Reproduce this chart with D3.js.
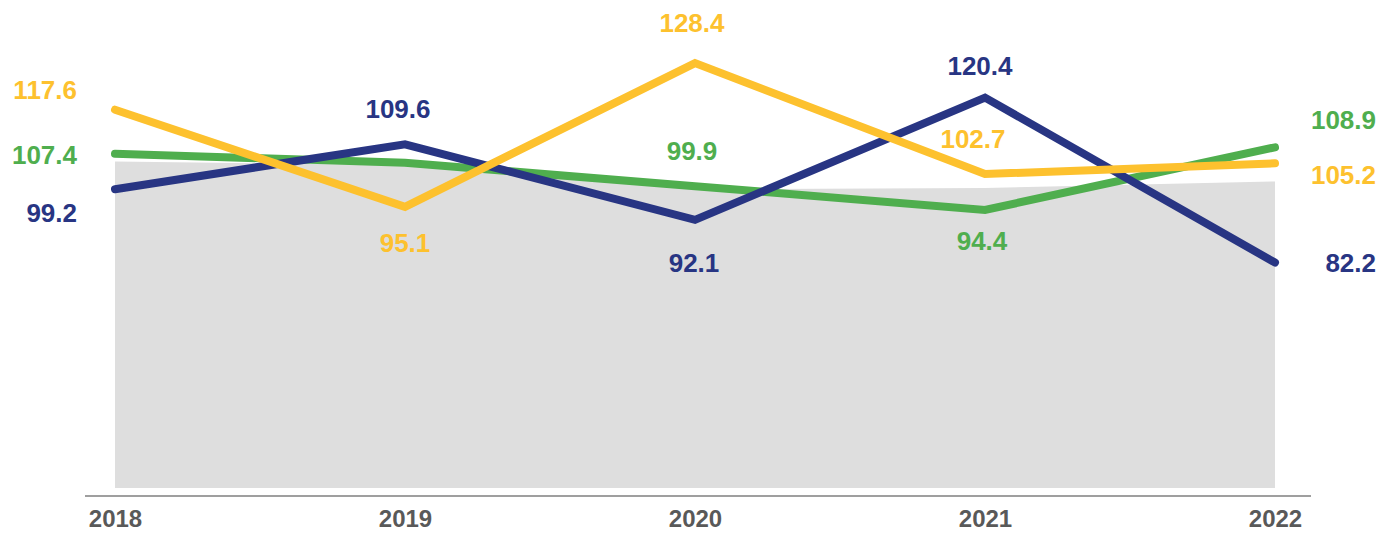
<!DOCTYPE html>
<html>
<head>
<meta charset="utf-8">
<script src="https://cdn.jsdelivr.net/npm/d3@7"></script>
<style>
  body { margin: 0; background: #fff; }
  text { font-family: "Liberation Sans", Arial, sans-serif; font-weight: bold; }
</style>
</head>
<body>
<div id="chart"></div>
<script>
// data
const years = ["2018", "2019", "2020", "2021", "2022"];
const blueValues = [99.2, 109.6, 92.1, 120.4, 82.2];
const greenValues = [107.4, 105.3, 99.9, 94.4, 108.9];
const yellowValues = [117.6, 95.1, 128.4, 102.7, 105.2];
const greyValues = [105.6, 104.8, 99.2, 99.5, 101.0];
const greenShowLabel = [true, false, true, true, true];

// label placement (layout only): [dx, dy] from the point, anchor
const blueLabelPos = [[-38, 23, "end"], [-7, -36, "middle"], [-1, 43, "middle"], [-5, -32, "middle"], [101, 0, "end"]];
const greenLabelPos = [[-38, 1, "end"], [0, 0, "middle"], [-3, -36, "middle"], [-3, 31, "middle"], [101, -28, "end"]];
const yellowLabelPos = [[-38, -20, "end"], [0, 36, "middle"], [-3, -40, "middle"], [-12, -35, "middle"], [101, 11, "end"]];

const size = {
    width: 1381,
    height: 533,
};

const svg = d3.select("#chart")
    .append("svg")
    .attr("width", size.width)
    .attr("height", size.height);

const xScale = d3.scalePoint()
    .domain(years)
    .range([115, 1275]);

const yScale = d3.scaleLinear()
    .domain([30, 140])
    .range([488, 13]);

// grey background area
const area = d3.area()
    .x((d, i) => xScale(years[i]))
    .y0(yScale(30))
    .y1((d) => yScale(d));

svg.append("path")
    .attr("d", area(greyValues))
    .attr("fill", "#dedede");

// x axis
const xAxis = d3.axisBottom(xScale).tickSize(0).tickPadding(14);
const axisG = svg.append("g")
    .attr("transform", `translate(0, ${496})`)
    .call(xAxis);
axisG.select(".domain")
    .attr("d", "M85,0H1311")
    .attr("stroke", "#7f7f7f")
    .attr("stroke-width", 1.5);
axisG.selectAll("text")
    .attr("fill", "#595959")
    .style("font-size", "24px")
    .style("font-family", "'Liberation Sans', Arial, sans-serif")
    .style("font-weight", "bold");

const line = d3.line()
    .x((d, i) => xScale(years[i]))
    .y((d) => yScale(d));

const series = [
    { values: greenValues, color: "#4fae4e", pos: greenLabelPos, show: greenShowLabel },
    { values: blueValues, color: "#283583", pos: blueLabelPos, show: years.map(() => true) },
    { values: yellowValues, color: "#fdc12e", pos: yellowLabelPos, show: years.map(() => true) },
];

series.forEach((s) => {
    svg.append("path")
        .attr("d", line(s.values))
        .attr("fill", "none")
        .attr("stroke", s.color)
        .attr("stroke-width", 8)
        .attr("stroke-linecap", "round")
        .attr("stroke-linejoin", "miter");
});

// labels
series.forEach((s) => {
    svg.append("g")
        .selectAll("text")
        .data(s.values.map((v, i) => ({ v, i })).filter((d) => s.show[d.i]))
        .enter()
        .append("text")
        .attr("x", (d) => xScale(years[d.i]) + s.pos[d.i][0])
        .attr("y", (d) => yScale(d.v) + s.pos[d.i][1])
        .attr("dy", "0.36em")
        .attr("text-anchor", (d) => s.pos[d.i][2])
        .attr("fill", s.color)
        .style("font-size", "26px")
        .text((d) => d.v.toFixed(1));
});
</script>
</body>
</html>
